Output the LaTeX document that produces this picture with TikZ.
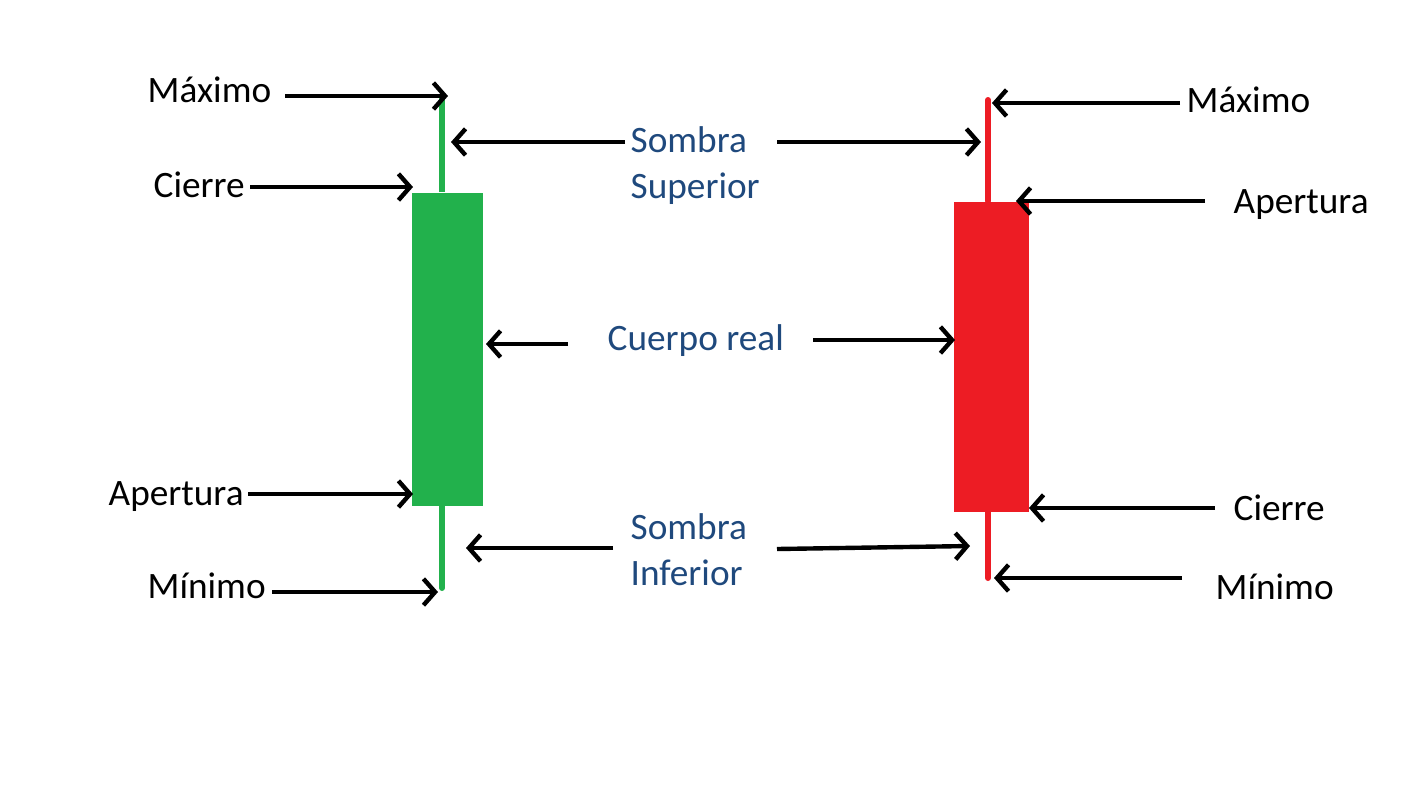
\documentclass[tikz,border=0pt]{standalone}
\usepackage{fontspec}
\setmainfont{Carlito}
\usetikzlibrary{arrows.meta}
\definecolor{cgreen}{HTML}{22B14C}
\definecolor{cred}{HTML}{ED1C24}
\definecolor{cblue}{HTML}{1F497D}
\begin{document}
\begin{tikzpicture}[x=0.01cm,y=-0.01cm,
  lbl/.style={inner sep=0pt,font=\fontsize{10.6pt}{13pt}\selectfont,text=black},
  blbl/.style={lbl,text=cblue,align=left},
  arr/.style={line width=1.25pt,-{Straight Barb[length=3.3pt,width=7.5pt]}},
  wick/.style={line width=1.7pt}]
\useasboundingbox (0,0) rectangle (1420,799);
% green candle
\node[fill=cgreen,inner sep=0pt,minimum width=71*0.01cm,minimum height=313*0.01cm,anchor=north west] (gbody) at (411,192) {};
\coordinate (gtop) at (442,96);
\coordinate (gbot) at (442,588);
\draw[wick,cgreen] (gtop) -- (gbody.north -| gtop);
\draw[wick,cgreen,line cap=round] (gbody.south -| gbot) -- (gbot);
% red candle
\node[fill=cred,inner sep=0pt,minimum width=75*0.01cm,minimum height=310*0.01cm,anchor=north west] (rbody) at (953,201) {};
\coordinate (rtop) at (988,100);
\coordinate (rbot) at (988,578);
\draw[wick,cred,line cap=round] (rtop) -- (rbody.north -| rtop);
\draw[wick,cred,line cap=round] (rbody.south -| rbot) -- (rbot);
% left labels
\node[lbl,anchor=base west] (lmax) at (147,102) {Máximo};
\node[lbl,anchor=base west] (lcie) at (153,197) {Cierre};
\node[lbl,anchor=base west] (lape) at (108,505) {Apertura};
\node[lbl,anchor=base west] (lmin) at (147,598) {Mínimo};
% right labels
\node[lbl,anchor=base west] (rmax) at (1186,112) {Máximo};
\node[lbl,anchor=base west] (rape) at (1233,213) {Apertura};
\node[lbl,anchor=base west] (rcie) at (1233,520) {Cierre};
\node[lbl,anchor=base west] (rmin) at (1215,599) {Mínimo};
% middle labels
\node[blbl,anchor=north west] (ssup) at (630,126) {Sombra\\Superior};
\node[lbl,text=cblue,anchor=base west] (creal) at (607,350) {Cuerpo real};
\node[blbl,anchor=north west] (sinf) at (630,513) {Sombra\\Inferior};
% arrow endpoints
\coordinate (a1s) at (285,96);   \coordinate (a1e) at (448,96);
\coordinate (a2s) at (250,187);  \coordinate (a2e) at (413,187);
\coordinate (a3s) at (248,494);  \coordinate (a3e) at (413,494);
\coordinate (a4s) at (272,592);  \coordinate (a4e) at (438,592);
\coordinate (b1s) at (1180,103); \coordinate (b1e) at (992,103);
\coordinate (b2s) at (1205,201); \coordinate (b2e) at (1016,201);
\coordinate (b3s) at (1215,508); \coordinate (b3e) at (1029,508);
\coordinate (b4s) at (1182,578); \coordinate (b4e) at (994,578);
\coordinate (c1s) at (625,142);  \coordinate (c1e) at (451,142);
\coordinate (c2s) at (777,142);  \coordinate (c2e) at (981,142);
\coordinate (c3s) at (568,344);  \coordinate (c3e) at (486,344);
\coordinate (c4s) at (813,340);  \coordinate (c4e) at (955,340);
\coordinate (c5s) at (613,548);  \coordinate (c5e) at (466,548);
\coordinate (c6s) at (777,549);  \coordinate (c6e) at (970,546);
\foreach \s/\e in {a1s/a1e,a2s/a2e,a3s/a3e,a4s/a4e,b1s/b1e,b2s/b2e,b3s/b3e,b4s/b4e,c1s/c1e,c2s/c2e,c3s/c3e,c4s/c4e,c5s/c5e,c6s/c6e}
  \draw[arr] (\s) -- (\e);
\end{tikzpicture}
\end{document}
